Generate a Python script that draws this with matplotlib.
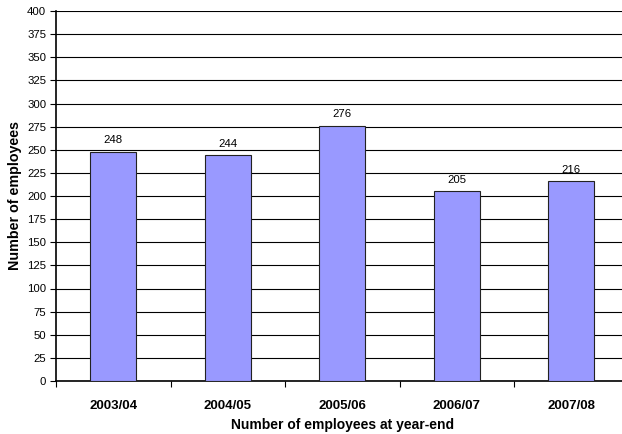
import matplotlib.pyplot as plt
import numpy as np

years = ['2003/04', '2004/05', '2005/06', '2006/07', '2007/08']
employees = [248, 244, 276, 205, 216]

plt.rcParams['font.family'] = ['Liberation Sans', 'DejaVu Sans']

fig = plt.figure(figsize=(6.22, 4.34), dpi=100)
# axes runs a bit past the right edge of the picture, like the original
ax = fig.add_axes([56 / 622, 53 / 434, 572.5 / 622, 370 / 434])

x = np.arange(len(years))
bars = ax.bar(x, employees, width=0.4, color='#9999FF', edgecolor='#222222',
              linewidth=0.8, zorder=3)
for b, v in zip(bars, employees):
    ax.text(b.get_x() + b.get_width() / 2, v + 7, str(v), ha='center',
            va='bottom', fontsize=8.2)

ax.set_xlim(-0.5, len(years) - 0.5)
ax.set_ylim(0, 400)
ax.set_yticks(range(0, 401, 25))
ax.yaxis.grid(True, color='black', linewidth=0.8)
ax.set_axisbelow(True)

ax.set_xticks(x)
ax.set_xticklabels(years, fontsize=9.5, fontweight='bold')
ax.set_xticks(np.arange(len(years) + 1) - 0.5, minor=True)
ax.tick_params(axis='x', which='major', length=0, pad=14)
ax.tick_params(axis='x', which='minor', length=4, width=0.8)
ax.tick_params(axis='y', length=4, width=0.8, labelsize=8.2, pad=3)

for s in ['top', 'right']:
    ax.spines[s].set_visible(False)
ax.spines['left'].set_linewidth(1.2)
ax.spines['bottom'].set_linewidth(1.2)

ax.set_xlabel('Number of employees at year-end', fontsize=10,
              fontweight='bold')
ax.set_ylabel('Number of employees', fontsize=10.3, fontweight='bold')
ax.yaxis.set_label_coords(-(56 - 15.5) / 572.5, 0.5)
ax.xaxis.set_label_coords(0.5, -(425 - 381) / 370)
ax.xaxis.label.set_va('center')
ax.yaxis.label.set_va('center')

fig.savefig('out.png', dpi=100)
